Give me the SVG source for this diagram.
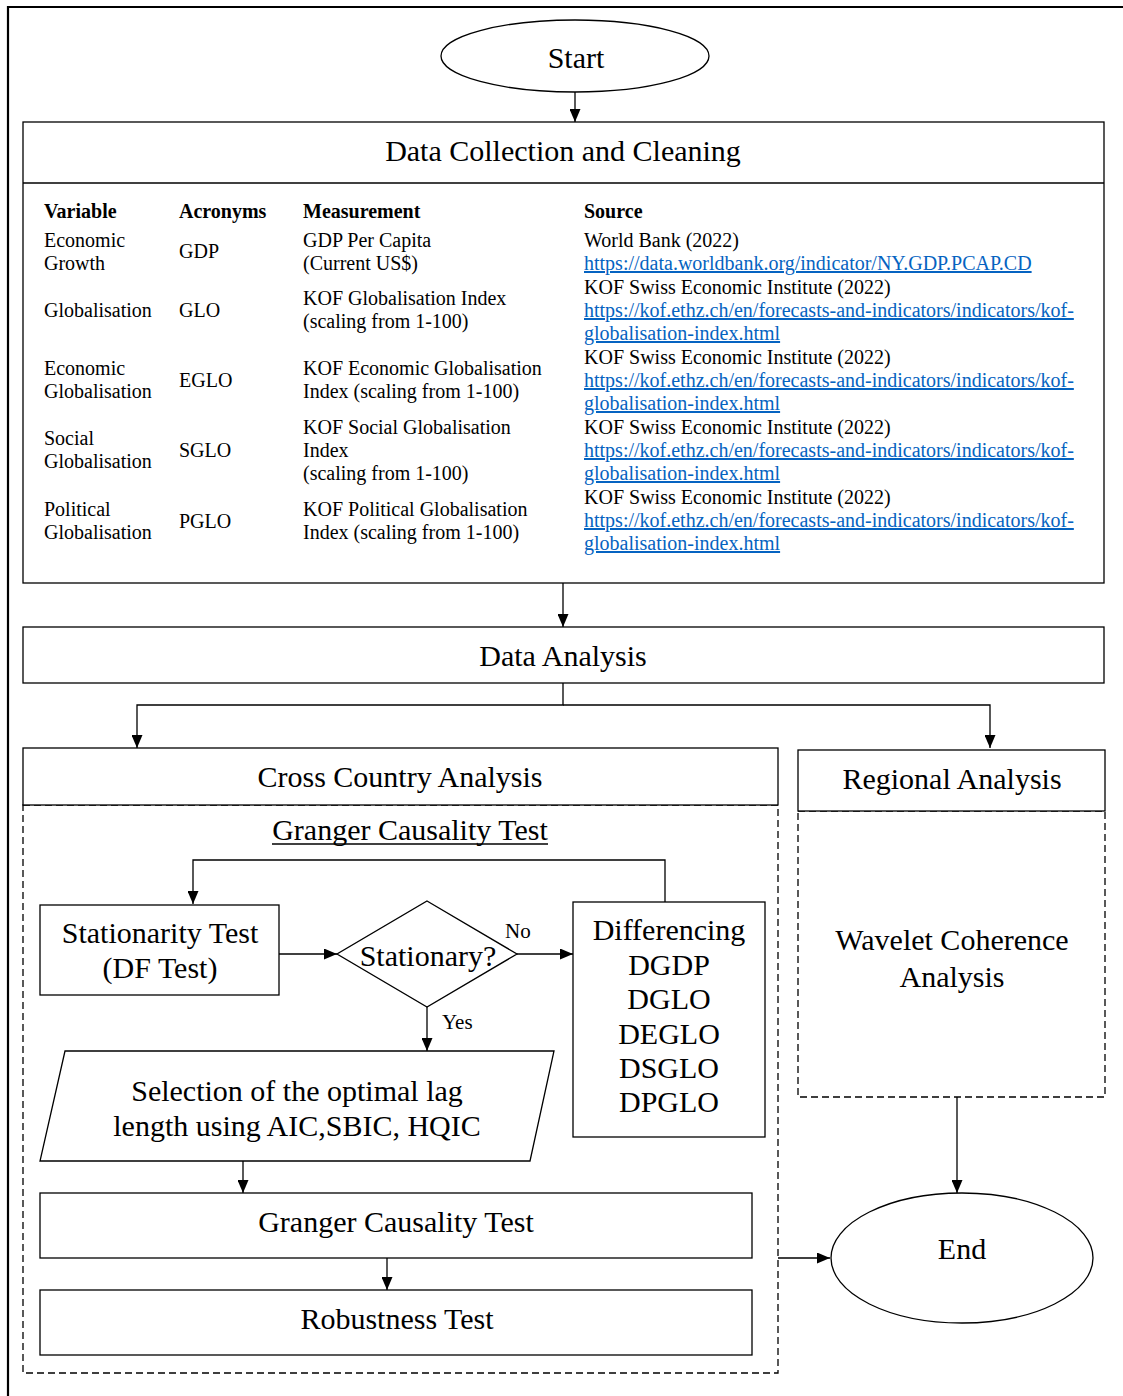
<svg xmlns="http://www.w3.org/2000/svg" width="1123" height="1396" viewBox="0 0 1123 1396">
<style>
.s{fill:#fff;stroke:#000;stroke-width:1.3}
.d{fill:none;stroke:#000;stroke-width:1.3;stroke-dasharray:7 4}
.t{font-family:"Liberation Serif","Times New Roman",serif;fill:#000;text-anchor:middle;dominant-baseline:central}
.big{font-size:30px}
.mid{font-size:30px}
.tb{font-family:"Liberation Serif","Times New Roman",serif;font-size:20px;fill:#000}
.h{font-weight:bold}
.lk{fill:#0563C1;text-decoration:underline}
.c{fill:none;stroke:#000;stroke-width:1.3}
</style>
<defs>
<marker id="a" viewBox="0 0 13 11" refX="13" refY="5.5" markerWidth="13" markerHeight="11" markerUnits="userSpaceOnUse" orient="auto">
<path d="M0,0 L13,5.5 L0,11 Z" fill="#000"/>
</marker>
</defs>
<rect width="1123" height="1396" fill="#fff"/>
<path d="M8,1396 L8,7 L1123,7" fill="none" stroke="#000" stroke-width="2.2"/>

<g id="start">
<ellipse class="s" cx="575" cy="56" rx="134" ry="36"/>
<text class="t mid" x="576" y="57">Start</text>
</g>

<g id="data-collection">
<rect class="s" x="23" y="122" width="1081" height="461"/>
<line class="c" x1="23" y1="183" x2="1104" y2="183"/>
<text class="t big" x="563" y="150">Data Collection and Cleaning</text>
<g class="tb">
<text class="h" x="44" y="218">Variable</text>
<text class="h" x="179" y="218">Acronyms</text>
<text class="h" x="303" y="218">Measurement</text>
<text class="h" x="584" y="218">Source</text>

<text x="44" y="247">Economic</text>
<text x="44" y="270">Growth</text>
<text x="179" y="258">GDP</text>
<text x="303" y="247">GDP Per Capita</text>
<text x="303" y="270">(Current US$)</text>
<text x="584" y="247">World Bank (2022)</text>
<text class="lk" x="584" y="270">https://data.worldbank.org/indicator/NY.GDP.PCAP.CD</text>

<text x="44" y="317">Globalisation</text>
<text x="179" y="317">GLO</text>
<text x="303" y="305">KOF Globalisation Index</text>
<text x="303" y="328">(scaling from 1-100)</text>
<text x="584" y="294">KOF Swiss Economic Institute (2022)</text>
<text class="lk" x="584" y="317">https://kof.ethz.ch/en/forecasts-and-indicators/indicators/kof-</text>
<text class="lk" x="584" y="340">globalisation-index.html</text>

<text x="44" y="375">Economic</text>
<text x="44" y="398">Globalisation</text>
<text x="179" y="387">EGLO</text>
<text x="303" y="375">KOF Economic Globalisation</text>
<text x="303" y="398">Index (scaling from 1-100)</text>
<text x="584" y="364">KOF Swiss Economic Institute (2022)</text>
<text class="lk" x="584" y="387">https://kof.ethz.ch/en/forecasts-and-indicators/indicators/kof-</text>
<text class="lk" x="584" y="410">globalisation-index.html</text>

<text x="44" y="445">Social</text>
<text x="44" y="468">Globalisation</text>
<text x="179" y="457">SGLO</text>
<text x="303" y="434">KOF Social Globalisation</text>
<text x="303" y="457">Index</text>
<text x="303" y="480">(scaling from 1-100)</text>
<text x="584" y="434">KOF Swiss Economic Institute (2022)</text>
<text class="lk" x="584" y="457">https://kof.ethz.ch/en/forecasts-and-indicators/indicators/kof-</text>
<text class="lk" x="584" y="480">globalisation-index.html</text>

<text x="44" y="516">Political</text>
<text x="44" y="539">Globalisation</text>
<text x="179" y="528">PGLO</text>
<text x="303" y="516">KOF Political Globalisation</text>
<text x="303" y="539">Index (scaling from 1-100)</text>
<text x="584" y="504">KOF Swiss Economic Institute (2022)</text>
<text class="lk" x="584" y="527">https://kof.ethz.ch/en/forecasts-and-indicators/indicators/kof-</text>
<text class="lk" x="584" y="550">globalisation-index.html</text>
</g>
</g>

<g id="data-analysis">
<rect class="s" x="23" y="627" width="1081" height="56"/>
<text class="t big" x="563" y="655">Data Analysis</text>
</g>

<g id="cross-country">
<rect class="d" x="23" y="805" width="755" height="568"/>
<rect class="s" x="23" y="748" width="755" height="57"/>
<text class="t big" x="400" y="776">Cross Country Analysis</text>
<text class="t big" x="410" y="829">Granger Causality Test</text>
<line class="c" x1="272" y1="844" x2="548" y2="844" stroke-width="1.8"/>
</g>

<g id="stationarity-test">
<rect class="s" x="40" y="905" width="239" height="90"/>
<text class="t mid" x="160" y="932">Stationarity Test</text>
<text class="t mid" x="160" y="967">(DF Test)</text>
</g>

<g id="stationary-decision">
<polygon class="s" points="427,901 517,954 427,1007 337,954"/>
<text class="t mid" x="428" y="955">Stationary?</text>
</g>

<g id="differencing">
<rect class="s" x="573" y="902" width="192" height="235"/>
<text class="t mid" x="669" y="929">Differencing</text>
<text class="t mid" x="669" y="964">DGDP</text>
<text class="t mid" x="669" y="998">DGLO</text>
<text class="t mid" x="669" y="1033">DEGLO</text>
<text class="t mid" x="669" y="1067">DSGLO</text>
<text class="t mid" x="669" y="1101">DPGLO</text>
</g>

<g id="lag-selection">
<polygon class="s" points="65,1051 554,1051 530,1161 40,1161"/>
<text class="t mid" x="297" y="1090">Selection of the optimal lag</text>
<text class="t mid" x="297" y="1125">length using AIC,SBIC, HQIC</text>
</g>

<g id="granger-test">
<rect class="s" x="40" y="1193" width="712" height="65"/>
<text class="t mid" x="396" y="1221">Granger Causality Test</text>
</g>

<g id="robustness-test">
<rect class="s" x="40" y="1290" width="712" height="65"/>
<text class="t mid" x="397" y="1318">Robustness Test</text>
</g>

<g id="regional">
<rect class="d" x="798" y="811" width="307" height="286"/>
<rect class="s" x="798" y="750" width="307" height="61"/>
<text class="t big" x="952" y="778">Regional Analysis</text>
<text class="t mid" x="952" y="939">Wavelet Coherence</text>
<text class="t mid" x="952" y="976">Analysis</text>
</g>

<g id="end">
<ellipse class="s" cx="962" cy="1258" rx="131" ry="65"/>
<text class="t mid" x="962" y="1248">End</text>
</g>

<g id="connectors">
<line class="c" x1="575" y1="92" x2="575" y2="122" marker-end="url(#a)"/>
<line class="c" x1="563" y1="583" x2="563" y2="627" marker-end="url(#a)"/>
<polyline class="c" points="563,683 563,705 137,705 137,748" marker-end="url(#a)"/>
<polyline class="c" points="563,705 990,705 990,748" marker-end="url(#a)"/>
<polyline class="c" points="665,902 665,860 193,860 193,904" marker-end="url(#a)" stroke-width="1.8"/>
<line class="c" x1="279" y1="954" x2="337" y2="954" marker-end="url(#a)"/>
<line class="c" x1="517" y1="954" x2="573" y2="954" marker-end="url(#a)"/>
<text class="tb" x="505" y="938" style="font-size:21px">No</text>
<line class="c" x1="427" y1="1007" x2="427" y2="1051" marker-end="url(#a)"/>
<text class="tb" x="442" y="1029" style="font-size:21px">Yes</text>
<line class="c" x1="243" y1="1161" x2="243" y2="1193" marker-end="url(#a)"/>
<line class="c" x1="387" y1="1258" x2="387" y2="1290" marker-end="url(#a)"/>
<line class="c" x1="778" y1="1258" x2="830" y2="1258" marker-end="url(#a)"/>
<line class="c" x1="957" y1="1097" x2="957" y2="1193" marker-end="url(#a)"/>
</g>
</svg>
